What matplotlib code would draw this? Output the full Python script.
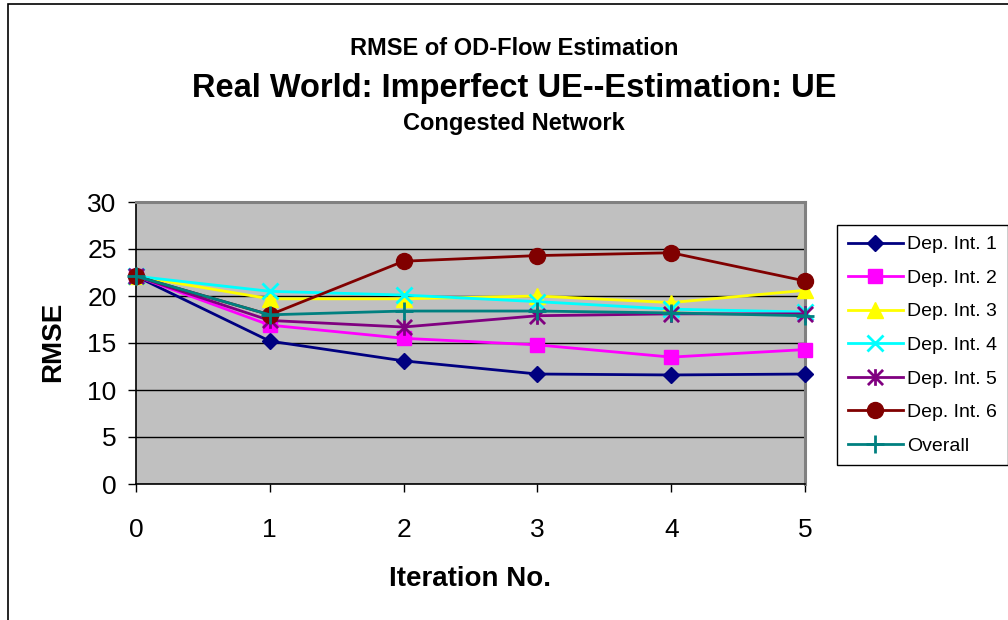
import matplotlib
matplotlib.use("Agg")
import matplotlib.pyplot as plt
from matplotlib.path import Path
from matplotlib.patches import Rectangle

plt.rcParams["font.family"] = ["Liberation Sans", "DejaVu Sans"]

iterations = [0, 1, 2, 3, 4, 5]
dep1 = [22.1, 15.2, 13.1, 11.7, 11.6, 11.7]
dep2 = [22.1, 16.9, 15.5, 14.8, 13.5, 14.3]
dep3 = [22.1, 19.7, 19.7, 20.0, 19.3, 20.6]
dep4 = [22.1, 20.5, 20.1, 19.4, 18.6, 18.3]
dep5 = [22.1, 17.4, 16.7, 17.9, 18.1, 18.1]
dep6 = [22.1, 18.0, 23.7, 24.3, 24.6, 21.6]
overall = [22.1, 18.0, 18.4, 18.4, 18.2, 17.9]
labels = ["Dep. Int. 1", "Dep. Int. 2", "Dep. Int. 3", "Dep. Int. 4",
          "Dep. Int. 5", "Dep. Int. 6", "Overall"]
yticks = [0, 5, 10, 15, 20, 25, 30]

# asterisk: an x with a vertical bar through it
asterisk = Path([(-1, -1), (1, 1), (-1, 1), (1, -1), (0, -1.1), (0, 1.1)],
                [Path.MOVETO, Path.LINETO, Path.MOVETO, Path.LINETO,
                 Path.MOVETO, Path.LINETO])

styles = [
    dict(color="#000080", marker="D", ms=8.5, mew=1),
    dict(color="#FF00FF", marker="s", ms=10.5, mew=1),
    dict(color="#FFFF00", marker="^", ms=11.5, mew=1),
    dict(color="#00FFFF", marker="x", ms=11, mew=2),
    dict(color="#800080", marker=asterisk, ms=12, mew=2),
    dict(color="#800000", marker="o", ms=11.5, mew=1),
    dict(color="#008080", marker="+", ms=13, mew=2),
]

W, H = 1008, 620
fig = plt.figure(figsize=(W / 100, H / 100), dpi=100)
fig.patch.set_facecolor("white")

# outer chart border (runs off the right and bottom edges)
fig.patches.append(Rectangle((8 / W, -0.1), 2, 1.1 - 4 / H, transform=fig.transFigure,
                             fill=False, edgecolor="black", linewidth=1.2))

ax = fig.add_axes([136 / W, 1 - 484 / H, (805 - 136) / W, (484 - 202) / H])
ax.set_facecolor("#C0C0C0")

for vals, lab, st in zip([dep1, dep2, dep3, dep4, dep5, dep6, overall], labels, styles):
    ax.plot(iterations, vals, label=lab, linewidth=2, color=st["color"],
            marker=st["marker"], markersize=st["ms"], markeredgewidth=st["mew"],
            markerfacecolor=st["color"], markeredgecolor=st["color"], clip_on=False, zorder=3)

ax.set_xlim(0, 5)
ax.set_ylim(0, 30)
ax.set_xticks(iterations)
ax.set_yticks(yticks)
ax.yaxis.grid(True, color="black", linewidth=1)
ax.set_axisbelow(True)

for side in ["top", "right"]:
    ax.spines[side].set_color("#808080")
    ax.spines[side].set_linewidth(2.2)
for side in ["left", "bottom"]:
    ax.spines[side].set_color("black")
    ax.spines[side].set_linewidth(1.2)

ax.tick_params(axis="both", direction="out", length=6, width=1, colors="black", labelsize=19)
ax.tick_params(axis="y", pad=8)
ax.tick_params(axis="x", pad=18.5)

fig.text(53 / W, 1 - 342 / H, "RMSE", rotation=90, ha="center", va="center",
         fontsize=20, fontweight="bold")
fig.text(470 / W, 1 - 586 / H, "Iteration No.", ha="center", va="baseline",
         fontsize=20, fontweight="bold")

fig.text(514 / W, 1 - 55 / H, "RMSE of OD-Flow Estimation", ha="center", va="baseline",
         fontsize=17, fontweight="bold")
fig.text(514 / W, 1 - 97 / H, "Real World: Imperfect UE--Estimation: UE", ha="center",
         va="baseline", fontsize=23.5, fontweight="bold")
fig.text(514 / W, 1 - 130 / H, "Congested Network", ha="center", va="baseline",
         fontsize=17, fontweight="bold")

leg = ax.legend(loc="upper left", bbox_to_anchor=(837 / W, 1 - 225 / H),
                bbox_transform=fig.transFigure, fontsize=14, frameon=True, fancybox=False,
                shadow=False, handlelength=2.85, handletextpad=0.2, borderpad=0.55,
                labelspacing=0.82, borderaxespad=0)
leg.get_frame().set_edgecolor("black")
leg.get_frame().set_linewidth(1)
leg.get_frame().set_facecolor("white")
leg.get_frame().set_alpha(1)

fig.savefig("out.png", dpi=100)
